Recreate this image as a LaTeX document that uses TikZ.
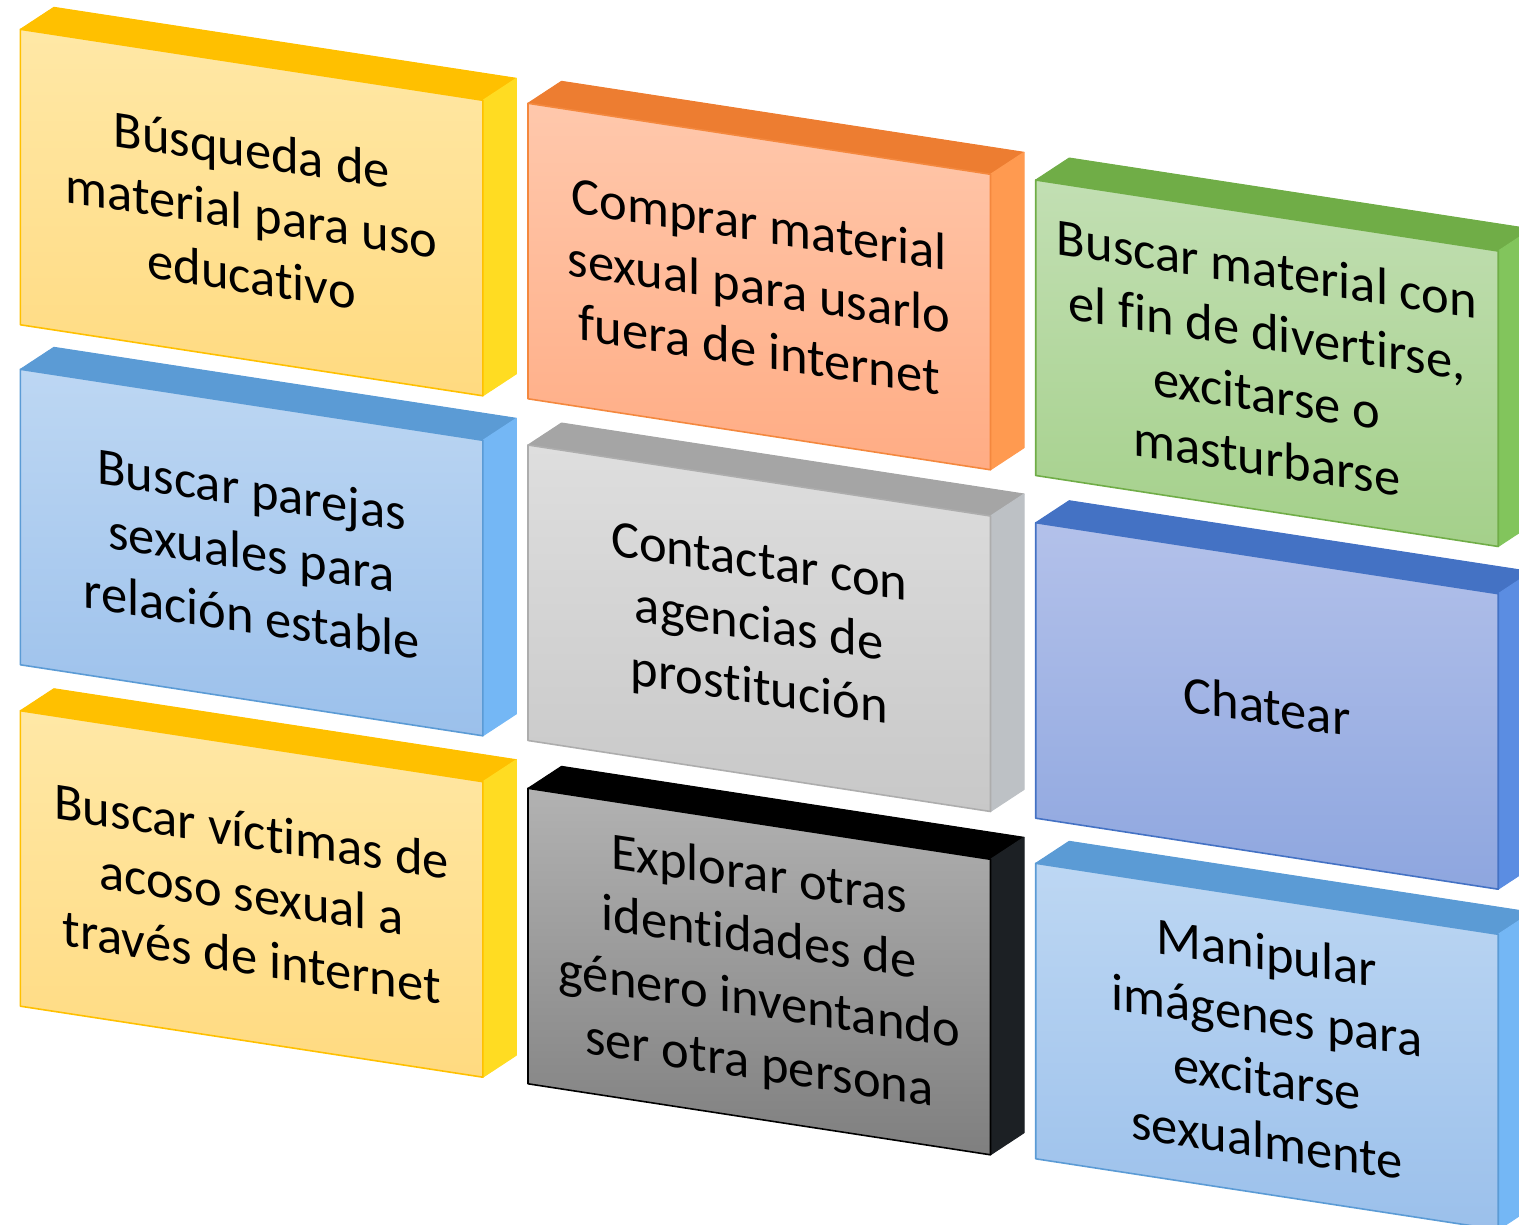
\documentclass[tikz,border=0pt]{standalone}
\usepackage{fontspec}
\setmainfont{Carlito}[Ligatures=NoCommon]
\definecolor{yelFt}{HTML}{FFE8A6}
\definecolor{yelFb}{HTML}{FFDA80}
\definecolor{yelT}{HTML}{FFC000}
\definecolor{yelS}{HTML}{FFDC22}
\definecolor{yelB}{HTML}{FFC000}
\definecolor{oraFt}{HTML}{FFC8AC}
\definecolor{oraFb}{HTML}{FFAC84}
\definecolor{oraT}{HTML}{ED7D31}
\definecolor{oraS}{HTML}{FF9A50}
\definecolor{oraB}{HTML}{F4883E}
\definecolor{greFt}{HTML}{C2DFB3}
\definecolor{greFb}{HTML}{A4D08A}
\definecolor{greT}{HTML}{70AD47}
\definecolor{greS}{HTML}{82C55C}
\definecolor{greB}{HTML}{70AD47}
\definecolor{bluFt}{HTML}{BDD7F3}
\definecolor{bluFb}{HTML}{9BC0EB}
\definecolor{bluT}{HTML}{5B9BD5}
\definecolor{bluS}{HTML}{74B7F5}
\definecolor{bluB}{HTML}{5B9BD5}
\definecolor{gryFt}{HTML}{DEDEDE}
\definecolor{gryFb}{HTML}{C8C8C8}
\definecolor{gryT}{HTML}{A5A5A5}
\definecolor{gryS}{HTML}{BDC1C5}
\definecolor{gryB}{HTML}{ADADAD}
\definecolor{indFt}{HTML}{B3C1EA}
\definecolor{indFb}{HTML}{8EA6DF}
\definecolor{indT}{HTML}{4472C4}
\definecolor{indS}{HTML}{5B8DE2}
\definecolor{indB}{HTML}{4472C4}
\definecolor{drkFt}{HTML}{B2B2B2}
\definecolor{drkFb}{HTML}{7F7F7F}
\definecolor{drkT}{HTML}{000000}
\definecolor{drkS}{HTML}{1C2024}
\definecolor{drkB}{HTML}{000000}
\tikzset{
  boxtext/.style={align=center, inner sep=0pt, text=black,
    font=\fontsize{52.5}{63}\selectfont, yslant=-0.1535}
}
% #1 X, #2 Y, #3 colour scheme, #4 name, #5 text
\newcommand\cubebox[5]{%
  \begin{scope}[shift={(#1,#2)}]
    \filldraw[fill=#3T, draw=#3T, line width=1pt, line join=round]
      (0,0) -- (462.5,71) -- (496,49) -- (33.5,-22) -- cycle;
    \filldraw[fill=#3S, draw=#3S, line width=1pt, line join=round]
      (462.5,71) -- (496,49) -- (496,344.5) -- (462.5,366.5) -- cycle;
    \shadedraw[top color=#3Ft, bottom color=#3Fb, draw=#3B, line width=1.6pt, line join=round]
      (0,0) -- (462.5,71) -- (462.5,366.5) -- (0,295.5) -- cycle;
    \node[boxtext] (#4) at (231.25,183.25) {#5};
  \end{scope}}
\begin{document}
\begin{tikzpicture}[x=1pt,y=-1pt]
  \useasboundingbox (0,0) rectangle (1519,1225);
  \clip (0,0) rectangle (1519,1225);
  \cubebox{20.4}{29.3}{yel}{b1}{Búsqueda de\\material para uso\\educativo}
  \cubebox{20.4}{369.3}{blu}{b4}{Buscar parejas\\sexuales para\\relación estable}
  \cubebox{20.4}{710.7}{yel}{b7}{Buscar víctimas de\\acoso sexual a\\través de internet}
  \cubebox{528}{103.3}{ora}{b2}{Comprar material\\sexual para usarlo\\fuera de internet}
  \cubebox{528}{445}{gry}{b5}{Contactar con\\agencias de\\prostitución}
  \cubebox{528}{788.3}{drk}{b8}{Explorar otras\\identidades de\\género inventando\\ser otra persona}
  \cubebox{1035.7}{180}{gre}{b3}{Buscar material con\\el fin de divertirse,\\excitarse o\\masturbarse}
  \cubebox{1035.7}{522.7}{ind}{b6}{Chatear}
  \cubebox{1035.7}{863.3}{blu}{b9}{Manipular\\imágenes para\\excitarse\\sexualmente}
\end{tikzpicture}
\end{document}
